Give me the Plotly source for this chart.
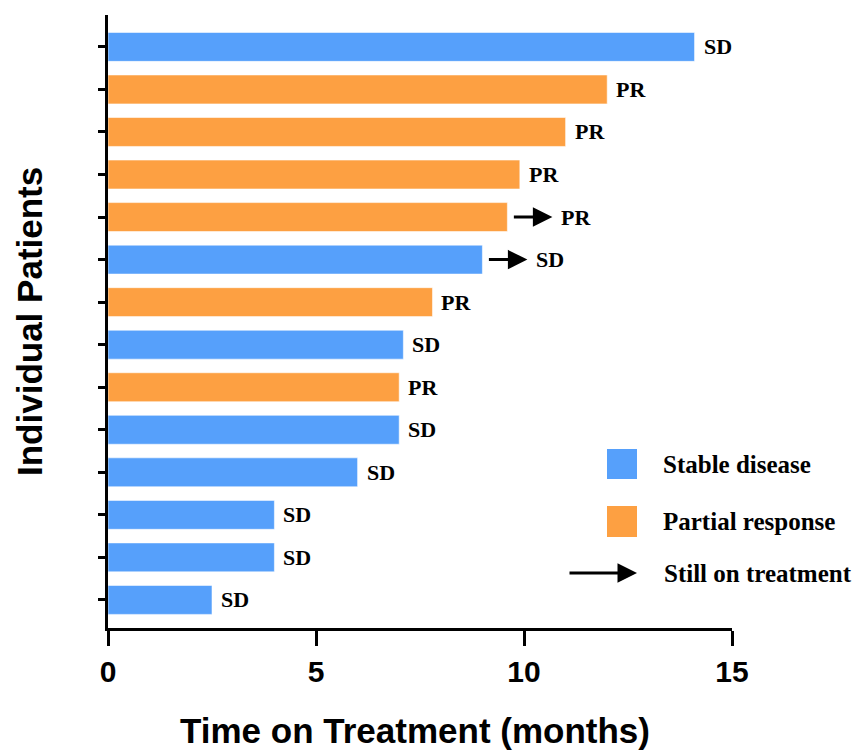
import plotly.graph_objects as go

# Time on treatment per patient (months), listed top to bottom
months = [14.1, 12.0, 11.0, 9.9, 9.6, 9.0, 7.8, 7.1, 7.0, 7.0, 6.0, 4.0, 4.0, 2.5]
response = ["SD", "PR", "PR", "PR", "PR", "SD", "PR", "SD", "PR", "SD", "SD", "SD", "SD", "SD"]
ongoing = [False, False, False, False, True, True, False, False, False, False, False, False, False, False]

x_ticks = [0, 5, 10, 15]
legend_labels = ["Stable disease", "Partial response", "Still on treatment"]

BLUE = "#56A0FB"
ORANGE = "#FDA042"
color_of = {"SD": BLUE, "PR": ORANGE}

W, H = 865, 753
L, R, T, B = 108, 133, 15, 125
PW, PH = W - L - R, H - T - B

def px_x(p):
    return (p - L) / PW

def px_y(p):
    return (H - B - p) / PH

n = len(months)
pos = [n - i for i in range(n)]

fig = go.Figure()
fig.add_bar(
    y=pos, x=months, orientation="h", width=0.68,
    marker=dict(color=[color_of[r] for r in response],
                line=dict(color="rgba(255,255,255,0.55)", width=1)),
    hoverinfo="skip", showlegend=False,
)

ann = []
shapes = []
serif = dict(family="Liberation Serif", size=22, color="black", weight="bold")

for v, p, r, go_on in zip(months, pos, response, ongoing):
    if go_on:
        ann.append(dict(x=v, y=p, xref="x", yref="y", text="", showarrow=True,
                        xshift=45, ax=-40, ay=0, arrowhead=2, arrowsize=1.3,
                        arrowwidth=3, arrowcolor="black"))
        shift = 52
    else:
        shift = 7
    ann.append(dict(x=v, y=p, xref="x", yref="y", text=r, showarrow=False,
                    xanchor="left", yanchor="middle", xshift=shift, font=serif))

# legend drawn in the lower right of the plotting area
legend_font = dict(family="Liberation Serif", size=25, color="black", weight="bold")
for (y0, y1), col, lab in zip([(449, 479), (506, 537)], [BLUE, ORANGE], legend_labels[:2]):
    shapes.append(dict(type="rect", xref="paper", yref="paper",
                       x0=px_x(607), x1=px_x(637), y0=px_y(y1), y1=px_y(y0),
                       fillcolor=col, line=dict(width=0)))
    ann.append(dict(x=px_x(661), y=px_y((y0 + y1) / 2), xref="paper", yref="paper",
                    text=lab, showarrow=False, xanchor="left", yanchor="middle",
                    font=legend_font))
ann.append(dict(x=px_x(637), y=px_y(573), xref="paper", yref="paper", text="",
                showarrow=True, ax=-69, ay=0, arrowhead=2, arrowsize=1.3,
                arrowwidth=3, arrowcolor="black"))
ann.append(dict(x=px_x(662), y=px_y(573), xref="paper", yref="paper",
                text=legend_labels[2], showarrow=False, xanchor="left",
                yanchor="middle", font=legend_font))

# axis titles
title_font = dict(family="Liberation Sans", size=35, color="black", weight="bold")
ann.append(dict(x=px_x(415), y=px_y(731), xref="paper", yref="paper",
                text="Time on Treatment (months)", showarrow=False,
                xanchor="center", yanchor="middle", font=title_font))
ann.append(dict(x=px_x(29), y=px_y(322), xref="paper", yref="paper",
                text="Individual Patients", showarrow=False, textangle=-90,
                xanchor="center", yanchor="middle", font=title_font))

fig.update_layout(
    width=W, height=H,
    margin=dict(l=L, r=R, t=T, b=B, autoexpand=False),
    plot_bgcolor="white", paper_bgcolor="white",
    annotations=ann, shapes=shapes,
    bargap=0.3,
)
fig.update_xaxes(
    range=[0, 15], tickvals=x_ticks, ticktext=[str(t) for t in x_ticks],
    showgrid=False, zeroline=False, showline=True, linecolor="black", linewidth=3,
    ticks="outside", ticklen=15, tickwidth=3, tickcolor="black",
    tickfont=dict(family="Liberation Sans", size=30, color="black", weight="bold"),
    fixedrange=True,
)
fig.update_yaxes(
    range=[0.34, 14.75], tickvals=pos, showticklabels=False,
    showgrid=False, zeroline=False, showline=True, linecolor="black", linewidth=3,
    ticks="outside", ticklen=7, tickwidth=3, tickcolor="black",
    fixedrange=True,
)

fig.write_html("out.html")
